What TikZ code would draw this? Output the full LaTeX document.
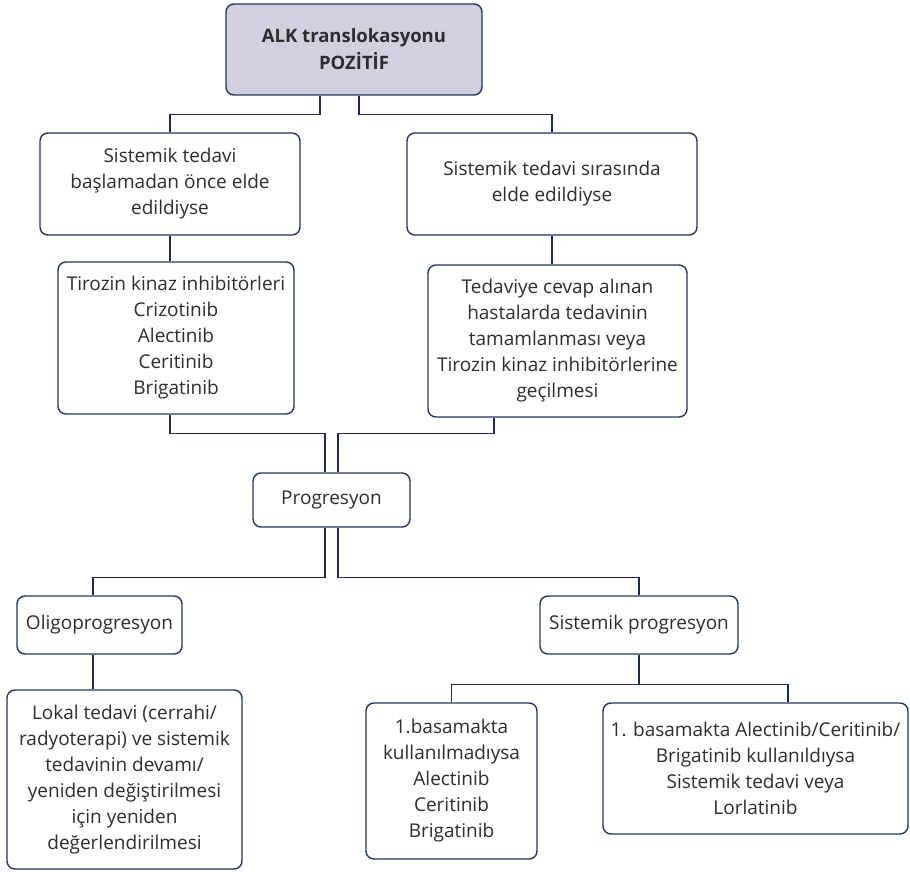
\documentclass[tikz,border=0pt]{standalone}
\usepackage{fontspec}
\setmainfont{Open Sans}
\usetikzlibrary{calc}

\definecolor{edge}{RGB}{40,52,92}
\definecolor{wire}{RGB}{30,42,84}
\definecolor{headfill}{RGB}{210,208,222}
\definecolor{ink}{RGB}{45,45,45}

\tikzset{
  box/.style={draw=edge, line width=1.4pt, rounded corners=8pt, fill=white,
    align=center, inner sep=0pt, text=ink,
    font=\fontsize{19}{26}\selectfont},
  headbox/.style={box, fill=headfill, font=\fontsize{18.5}{27}\selectfont\bfseries},
  link/.style={draw=wire, line width=1.3pt},
}

\begin{document}
\begin{tikzpicture}[x=1pt, y=-1pt]
  \useasboundingbox (0,0) rectangle (910,872);

  % decision boxes
  \node[headbox, minimum width=256pt, minimum height=91pt] (top) at (354,49.5)
    {ALK translokasyonu\\POZİTİF};
  \node[box, minimum width=260pt, minimum height=102pt] (A) at (170,184)
    {Sistemik tedavi\\başlamadan önce elde\\edildiyse};
  \node[box, minimum width=290pt, minimum height=102pt] (B) at (552,184)
    {Sistemik tedavi sırasında\\elde edildiyse};
  \node[box, minimum width=236pt, minimum height=152pt] (C) at (176,338)
    {Tirozin kinaz inhibitörleri\\Crizotinib\\Alectinib\\Ceritinib\\Brigatinib};
  \node[box, minimum width=259pt, minimum height=152pt] (D) at (557.5,341)
    {Tedaviye cevap alınan\\hastalarda tedavinin\\tamamlanması veya\\Tirozin kinaz inhibitörlerine\\geçilmesi};
  \node[box, minimum width=157pt, minimum height=54pt] (P) at (331.5,500)
    {Progresyon};
  \node[box, minimum width=165pt, minimum height=58pt] (O) at (99.5,625)
    {Oligoprogresyon};
  \node[box, minimum width=198pt, minimum height=58pt] (S) at (639,625)
    {Sistemik progresyon};
  \node[box, minimum width=235pt, minimum height=179pt] (L) at (124.5,779.5)
    {Lokal tedavi (cerrahi/\\radyoterapi) ve sistemik\\tedavinin devamı/\\yeniden değiştirilmesi\\için yeniden\\değerlendirilmesi};
  \node[box, minimum width=171pt, minimum height=156pt] (E) at (451.5,781)
    {1.basamakta\\kullanılmadıysa\\Alectinib\\Ceritinib\\Brigatinib};
  \node[box, minimum width=305pt, minimum height=131pt] (F) at (755.5,768.5)
    {1. basamakta Alectinib/Ceritinib/\\Brigatinib kullanıldıysa\\Sistemik tedavi veya\\Lorlatinib};

  % connectors
  \draw[link] ([xshift=-34pt]top.south) -- ++(0,19) -| (A.north);
  \draw[link] ([xshift=5pt]top.south) -- ++(0,19) -| (B.north);
  \draw[link] (A.south) -- (A.south |- C.north);
  \draw[link] (B.south) -- (B.south |- D.north);
  \draw[link] ([xshift=-6pt]C.south) -- ++(0,19) -| ([xshift=-6.5pt]P.north);
  \draw[link] ([xshift=-63.5pt]D.south) -- ++(0,16) -| ([xshift=6.5pt]P.north);
  \draw[link] ([xshift=-6.5pt]P.south) -- ++(0,50) -| ([xshift=-6.5pt]O.north);
  \draw[link] ([xshift=6.5pt]P.south) -- ++(0,50) -| (S.north);
  \draw[link] ([xshift=-6.5pt]O.south) -- ([xshift=-6.5pt]O.south |- L.north);
  \draw[link] (S.south) -- ++(0,30) coordinate (sj);
  \draw[link] (E.north) |- (sj) -| ([xshift=32.5pt]F.north);
\end{tikzpicture}
\end{document}
